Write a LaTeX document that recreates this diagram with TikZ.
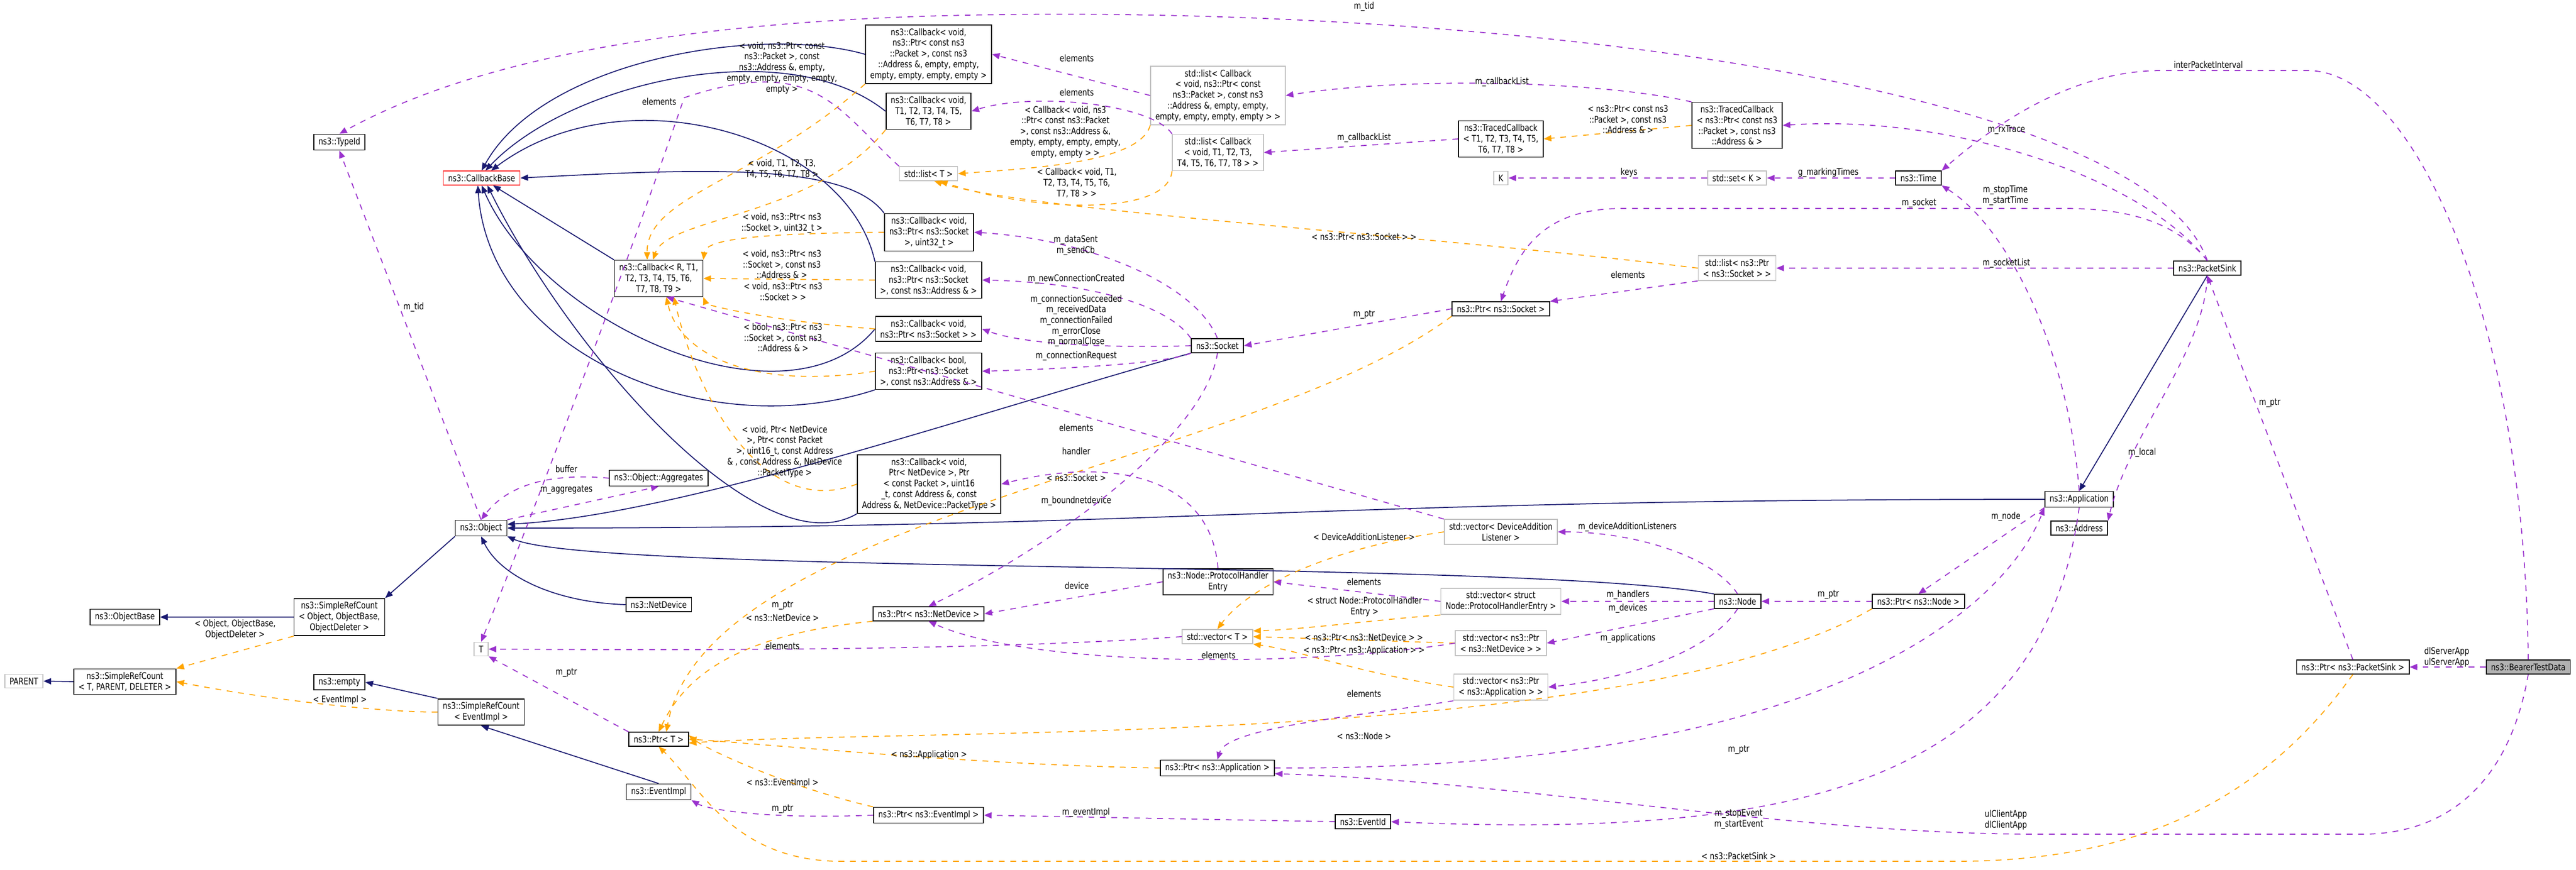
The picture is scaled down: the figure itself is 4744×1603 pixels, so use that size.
\documentclass[tikz,border=0pt]{standalone}
\usepackage{fontspec}
\newfontfamily\dxfont{DejaVu Sans}[FakeStretch=0.8]
\usepackage{tikz}
\usetikzlibrary{arrows.meta}
\definecolor{inhBlue}{HTML}{191970}
\definecolor{memPurple}{HTML}{9A32CD}
\definecolor{tplOrange}{HTML}{FFA500}
\tikzset{
  cls/.style={draw=black, fill=white, align=center, font=\dxfont\fontsize{4.8}{5.6}\selectfont,
              inner xsep=2.5pt, inner ysep=1.8pt, line width=0.5pt},
  ext/.style={cls, draw=black!25},
  basecls/.style={cls, draw=red!80},
  selfcls/.style={cls, fill=black!30},
  lbl/.style={align=center, font=\dxfont\fontsize{4.8}{5.6}\selectfont, inner sep=0pt},
  inh/.style={draw=inhBlue, line width=0.5pt, -{Triangle[length=4pt,width=3.2pt]}},
  mem/.style={draw=memPurple, dashed, line width=0.5pt, -{Triangle[length=4pt,width=3.2pt]}},
  tpl/.style={draw=tplOrange, dashed, line width=0.5pt, -{Triangle[length=4pt,width=3.2pt]}}
}
\begin{document}
\begin{tikzpicture}[x=0.01cm, y=-0.01cm]
\useasboundingbox (0,0) rectangle (4744,1603);
% classes
\node[cls] (typeId) at (625,262) {ns3::TypeId};
\node[basecls] (cbBase) at (887,328) {ns3::CallbackBase};
\node[cls] (cbPkt) at (1710,100) {ns3::Callback< void,\\ ns3::Ptr< const ns3\\::Packet >, const ns3\\::Address \&, empty, empty,\\empty, empty, empty, empty >};
\node[cls] (cbT8) at (1710,205) {ns3::Callback< void,\\T1, T2, T3, T4, T5,\\T6, T7, T8 >};
\node[ext] (listT) at (1710,320) {std::list< T >};
\node[ext] (listCbPkt) at (2243,176) {std::list< Callback\\< void, ns3::Ptr< const\\ ns3::Packet >, const ns3\\::Address \&, empty, empty,\\ empty, empty, empty, empty > >};
\node[ext] (listCbT8) at (2243,281) {std::list< Callback\\< void, T1, T2, T3,\\T4, T5, T6, T7, T8 > >};
\node[cls] (cbSockU) at (1711,428) {ns3::Callback< void,\\ ns3::Ptr< ns3::Socket\\ >, uint32\_t >};
\node[cls] (cbSockAddr) at (1710,516) {ns3::Callback< void,\\ ns3::Ptr< ns3::Socket\\>, const ns3::Address \& >};
\node[cls] (cbR) at (1213,513) {ns3::Callback< R, T1,\\ T2, T3, T4, T5, T6,\\ T7, T8, T9 >};
\node[cls] (cbVoidSock) at (1710,606) {ns3::Callback< void,\\ ns3::Ptr< ns3::Socket > >};
\node[cls] (cbBool) at (1710,684) {ns3::Callback< bool,\\ ns3::Ptr< ns3::Socket\\>, const ns3::Address \& >};
\node[cls] (socket) at (2242,637) {ns3::Socket};
\node[cls] (cbND) at (1711,892) {ns3::Callback< void,\\ Ptr< NetDevice >, Ptr\\< const Packet >, uint16\\\_t, const Address \&, const\\ Address \&, NetDevice::PacketType >};
\node[cls] (aggregates) at (1213,881) {ns3::Object::Aggregates};
\node[cls] (tracedT8) at (2764,256) {ns3::TracedCallback\\< T1, T2, T3, T4, T5,\\ T6, T7, T8 >};
\node[cls] (tracedPkt) at (3199,231) {ns3::TracedCallback\\< ns3::Ptr< const ns3\\::Packet >, const ns3\\::Address \& >};
\node[ext] (k) at (2764,328) {K};
\node[ext] (setK) at (3199,328) {std::set< K >};
\node[cls] (time) at (3533,328) {ns3::Time};
\node[ext] (listPtrSock) at (3199,494) {std::list< ns3::Ptr\\< ns3::Socket > >};
\node[cls] (ptrSocket) at (2764,569) {ns3::Ptr< ns3::Socket >};
\node[ext] (vecDAL) at (2764,980) {std::vector< DeviceAddition\\Listener >};
\node[cls] (packetSink) at (4065,494) {ns3::PacketSink};
\node[cls] (application) at (3829,920) {ns3::Application};
\node[cls] (address) at (3829,973) {ns3::Address};
\node[cls] (node) at (3200,1108) {ns3::Node};
\node[cls] (ptrNode) at (3533,1108) {ns3::Ptr< ns3::Node >};
\node[cls] (ptrPacketSink) at (4333,1229) {ns3::Ptr< ns3::PacketSink >};
\node[selfcls] (bearer) at (4656,1229) {ns3::BearerTestData};
\node[ext] (vecProto) at (2764,1108) {std::vector< struct\\ Node::ProtocolHandlerEntry >};
\node[ext] (vecPtrND) at (2764,1185) {std::vector< ns3::Ptr\\< ns3::NetDevice > >};
\node[ext] (vecPtrApp) at (2764,1266) {std::vector< ns3::Ptr\\< ns3::Application > >};
\node[cls] (object) at (886,973) {ns3::Object};
\node[cls] (srcObject) at (625,1137) {ns3::SimpleRefCount\\< Object, ObjectBase,\\ ObjectDeleter >};
\node[cls] (objectBase) at (230,1137) {ns3::ObjectBase};
\node[ext] (parent) at (44,1255) {PARENT};
\node[cls] (srcT) at (230,1256) {ns3::SimpleRefCount\\< T, PARENT, DELETER >};
\node[cls] (empty) at (625,1257) {ns3::empty};
\node[cls] (srcEvent) at (886,1312) {ns3::SimpleRefCount\\< EventImpl >};
\node[cls] (netDevice) at (1213,1114) {ns3::NetDevice};
\node[ext] (t) at (886,1196) {T};
\node[cls] (ptrT) at (1213,1362) {ns3::Ptr< T >};
\node[cls] (eventImpl) at (1213,1459) {ns3::EventImpl};
\node[cls] (protoEntry) at (2243,1072) {ns3::Node::ProtocolHandler\\Entry};
\node[cls] (ptrND) at (1710,1131) {ns3::Ptr< ns3::NetDevice >};
\node[ext] (vecT) at (2242,1173) {std::vector< T >};
\node[cls] (ptrApp) at (2242,1415) {ns3::Ptr< ns3::Application >};
\node[cls] (ptrEvent) at (1710,1502) {ns3::Ptr< ns3::EventImpl >};
\node[cls] (eventId) at (2510,1514) {ns3::EventId};

% inheritance
\draw[inh] (cbPkt.west) .. controls (1400,45) and (1000,110) .. (cbBase.north);
\draw[inh] (cbT8.west) .. controls (1450,60) and (1050,150) .. ([xshift=2pt]cbBase.north);
\draw[inh] (cbSockAddr.north west) .. controls (1560,250) and (1150,130) .. ([xshift=5pt]cbBase.north);
\draw[inh] (cbSockU.north west) .. controls (1560,300) and (1300,310) .. (cbBase.east);
\draw[inh] (cbVoidSock.west) .. controls (1450,800) and (1000,600) .. (cbBase.south);
\draw[inh] (cbBool.south west) .. controls (1300,820) and (900,650) .. ([xshift=-2pt]cbBase.south);
\draw[inh] (cbND.south west) .. controls (1400,1050) and (1050,650) .. ([xshift=3pt]cbBase.south);
\draw[inh] (cbR.north west) -- ([xshift=6pt]cbBase.south);
\draw[inh] (socket.south west) .. controls (1800,760) and (1250,950) .. ([yshift=2pt]object.east);
\draw[inh] (application.west) .. controls (2400,920) and (2200,973) .. (object.east);
\draw[inh] (node.north west) .. controls (2800,1030) and (1100,1060) .. (object.south east);
\draw[inh] (netDevice.west) .. controls (1020,1110) and (920,1060) .. (object.south);
\draw[inh] (object.south west) -- (srcObject.north east);
\draw[inh] (srcObject.west) -- (objectBase.east);
\draw[inh] (srcT.west) -- (parent.east);
\draw[inh] (srcEvent.north west) -- (empty.east);
\draw[inh] (eventImpl.north) -- (srcEvent.south);
\draw[inh] (packetSink.south) -- (application.north);

% template instances
\draw[tpl] (cbPkt.south west) .. controls (1400,330) and (1190,360) .. ([xshift=-6pt]cbR.north);
\draw[tpl] (cbT8.south west) .. controls (1500,400) and (1230,400) .. ([xshift=-3pt]cbR.north);
\draw[tpl] (cbSockU.west) .. controls (1400,430) and (1300,440) .. (cbR.north east);
\draw[tpl] (cbSockAddr.west) -- (cbR.east);
\draw[tpl] (cbVoidSock.west) .. controls (1400,590) and (1300,560) .. (cbR.south east);
\draw[tpl] (cbBool.west) .. controls (1380,720) and (1250,650) .. ([xshift=4pt]cbR.south);
\draw[tpl] (cbND.west) .. controls (1400,960) and (1280,720) .. ([xshift=8pt]cbR.south);
\draw[tpl] (listCbPkt.south west) .. controls (2100,300) and (1900,310) .. (listT.east);
\draw[tpl] (listCbT8.south west) .. controls (2150,400) and (1900,390) .. ([xshift=6pt]listT.south);
\draw[tpl] (listPtrSock.west) .. controls (2600,430) and (1900,390) .. ([xshift=3pt]listT.south);
\draw[tpl] (tracedPkt.west) -- (tracedT8.east);
\draw[tpl] (srcObject.south west) -- (srcT.north east);
\draw[tpl] (srcEvent.west) .. controls (700,1312) and (500,1290) .. (srcT.east);
\draw[tpl] (ptrSocket.south west) .. controls (2300,860) and (1300,950) .. ([xshift=4pt]ptrT.north);
\draw[tpl] (ptrND.south west) .. controls (1350,1170) and (1260,1250) .. (ptrT.north);
\draw[tpl] (ptrApp.west) .. controls (1800,1410) and (1400,1370) .. (ptrT.east);
\draw[tpl] (ptrEvent.north west) .. controls (1450,1450) and (1300,1380) .. ([yshift=2pt]ptrT.east);
\draw[tpl] (ptrNode.south west) .. controls (3000,1380) and (1700,1340) .. ([yshift=-2pt]ptrT.east);
\draw[tpl] (ptrPacketSink.south) .. controls (4150,1500) and (3900,1587) .. (3600,1587) -- (1550,1587) .. controls (1350,1587) and (1290,1450) .. (ptrT.south);
\draw[tpl] (vecDAL.west) .. controls (2450,1010) and (2300,1080) .. (vecT.north);
\draw[tpl] (vecProto.south west) .. controls (2550,1140) and (2400,1160) .. ([yshift=3pt]vecT.east);
\draw[tpl] (vecPtrND.west) -- (vecT.east);
\draw[tpl] (vecPtrApp.west) .. controls (2500,1240) and (2400,1200) .. (vecT.south east);

% members
\draw[mem] (packetSink.north) .. controls (3950,150) and (2700,0) .. (1700,30) .. controls (1100,50) and (800,150) .. (typeId.north);
\draw[mem] (object.north) -- (typeId.south);
\draw[mem] (listCbPkt.west) -- (cbPkt.east);
\draw[mem] (listCbT8.north west) .. controls (2120,190) and (1900,170) .. (cbT8.east);
\draw[mem] (listT.north west) .. controls (1540,200) and (1500,100) .. (1260,180) .. controls (1150,500) and (1000,900) .. (t.north);
\draw[mem] (tracedT8.west) -- (listCbT8.east);
\draw[mem] (tracedPkt.north west) .. controls (2950,150) and (2600,140) .. (listCbPkt.east);
\draw[mem] (packetSink.north) .. controls (3950,330) and (3600,210) .. (tracedPkt.east);
\draw[mem] (setK.west) -- (k.east);
\draw[mem] (time.west) -- (setK.east);
\draw[mem] (application.north) .. controls (3810,650) and (3700,420) .. (time.south east);
\draw[mem] (bearer.north) .. controls (4650,600) and (4450,130) .. (4250,130) -- (3980,130) .. controls (3800,130) and (3650,250) .. (time.north east);
\draw[mem] (packetSink.north) .. controls (4000,400) and (3900,384) .. (3800,384) -- (2990,384) .. controls (2850,384) and (2800,450) .. (ptrSocket.north);
\draw[mem] (packetSink.west) -- (listPtrSock.east);
\draw[mem] (listPtrSock.south west) -- (ptrSocket.north east);
\draw[mem] (ptrSocket.west) -- (socket.east);
\draw[mem] (socket.north) .. controls (2200,520) and (2000,440) .. (cbSockU.east);
\draw[mem] (socket.north west) .. controls (2150,560) and (2000,520) .. (cbSockAddr.east);
\draw[mem] (socket.west) .. controls (2100,640) and (1900,640) .. (cbVoidSock.east);
\draw[mem] (socket.south west) .. controls (2150,670) and (1950,680) .. (cbBool.east);
\draw[mem] (socket.south) .. controls (2220,800) and (1950,1000) .. (ptrND.north);
\draw[mem] (protoEntry.north) .. controls (2230,880) and (2050,840) .. (cbND.east);
\draw[mem] (protoEntry.west) -- (ptrND.east);
\draw[mem] (vecProto.west) -- (protoEntry.east);
\draw[mem] (vecPtrND.west) .. controls (2400,1230) and (1900,1230) .. (ptrND.south);
\draw[mem] (vecDAL.north west) -- ([xshift=4pt]cbR.south);
\draw[mem] (node.north) .. controls (3150,1020) and (3000,980) .. (vecDAL.east);
\draw[mem] (node.west) -- (vecProto.east);
\draw[mem] (node.south west) -- (vecPtrND.east);
\draw[mem] (node.south) .. controls (3150,1200) and (3000,1250) .. (vecPtrApp.east);
\draw[mem] (vecPtrApp.south west) .. controls (2500,1320) and (2260,1340) .. (ptrApp.north);
\draw[mem] (ptrNode.west) -- (node.east);
\draw[mem] (application.south west) -- (ptrNode.north);
\draw[mem] (packetSink.south) .. controls (4060,650) and (3920,800) .. (address.north east);
\draw[mem] (ptrPacketSink.north) -- (packetSink.south);
\draw[mem] (bearer.west) -- (ptrPacketSink.east);
\draw[mem] (bearer.south) .. controls (4620,1450) and (4500,1537) .. (4350,1537) -- (3750,1537) .. controls (3300,1537) and (2800,1440) .. ([yshift=-3pt]ptrApp.east);
\draw[mem] (ptrApp.east) .. controls (3400,1420) and (3700,1100) .. (application.south west);
\draw[mem] (application.south) .. controls (3760,1450) and (3300,1545) .. (eventId.east);
\draw[mem] (eventId.west) -- (ptrEvent.east);
\draw[mem] (ptrEvent.west) .. controls (1400,1510) and (1300,1490) .. (eventImpl.south east);
\draw[mem] (ptrT.north west) -- (t.south east);
\draw[mem] (vecT.west) .. controls (1800,1200) and (1200,1198) .. (t.east);
\draw[mem] (object.north east) -- (aggregates.south);
\draw[mem] (aggregates.west) .. controls (1000,870) and (930,900) .. (object.north);

% labels
\node[lbl] (lbTidTop) at (2512,12) {m\_tid};
\node[lbl] (lbTid) at (762,566) {m\_tid};
\node[lbl] (lbElPkt) at (1983,107) {elements};
\node[lbl] (lbElT8) at (1983,170) {elements};
\node[lbl] (lbElT) at (1214,187) {elements};
\node[lbl] (lbTplPkt) at (1440,125) {< void, ns3::Ptr< const\\ns3::Packet >, const\\ns3::Address \&, empty,\\empty, empty, empty, empty,\\empty >};
\node[lbl] (lbTplT8) at (1440,311) {< void, T1, T2, T3,\\T4, T5, T6, T7, T8 >};
\node[lbl] (lbTplSockU) at (1440,411) {< void, ns3::Ptr< ns3\\::Socket >, uint32\_t >};
\node[lbl] (lbTplSockAddr) at (1440,487) {< void, ns3::Ptr< ns3\\::Socket >, const ns3\\::Address \& >};
\node[lbl] (lbTplVoidSock) at (1442,537) {< void, ns3::Ptr< ns3\\::Socket > >};
\node[lbl] (lbTplBool) at (1442,622) {< bool, ns3::Ptr< ns3\\::Socket >, const ns3\\::Address \& >};
\node[lbl] (lbTplND) at (1445,832) {< void, Ptr< NetDevice\\>, Ptr< const Packet\\>, uint16\_t, const Address\\\& , const Address \&, NetDevice\\::PacketType >};
\node[lbl] (lbTplListPkt) at (1962,243) {< Callback< void, ns3\\::Ptr< const ns3::Packet\\>, const ns3::Address \&,\\empty, empty, empty, empty,\\empty, empty > >};
\node[lbl] (lbTplListT8) at (1983,337) {< Callback< void, T1,\\T2, T3, T4, T5, T6,\\T7, T8 > >};
\node[lbl] (lbTplListSock) at (2512,436) {< ns3::Ptr< ns3::Socket > >};
\node[lbl] (lbCbListT8) at (2512,254) {m\_callbackList};
\node[lbl] (lbCbListPkt) at (2766,151) {m\_callbackList};
\node[lbl] (lbTplTraced) at (2998,220) {< ns3::Ptr< const ns3\\::Packet >, const ns3\\::Address \& >};
\node[lbl] (lbRxTrace) at (3695,239) {m\_rxTrace};
\node[lbl] (lbKeys) at (3000,318) {keys};
\node[lbl] (lbMarking) at (3367,318) {g\_markingTimes};
\node[lbl] (lbStartStop) at (3693,360) {m\_stopTime\\m\_startTime};
\node[lbl] (lbInterval) at (4067,119) {interPacketInterval};
\node[lbl] (lbSocket) at (3534,374) {m\_socket};
\node[lbl] (lbSocketList) at (3695,485) {m\_socketList};
\node[lbl] (lbElSock) at (2998,506) {elements};
\node[lbl] (lbPtrSock) at (2512,580) {m\_ptr};
\node[lbl] (lbDataSent) at (1981,452) {m\_dataSent\\m\_sendCb};
\node[lbl] (lbNewConn) at (1982,514) {m\_newConnectionCreated};
\node[lbl] (lbConnSucc) at (1982,591) {m\_connectionSucceeded\\m\_receivedData\\m\_connectionFailed\\m\_errorClose\\m\_normalClose};
\node[lbl] (lbConnReq) at (1982,656) {m\_connectionRequest};
\node[lbl] (lbElDAL) at (1982,788) {elements};
\node[lbl] (lbHandler) at (1982,831) {handler};
\node[lbl] (lbTplSocket) at (1982,880) {< ns3::Socket >};
\node[lbl] (lbBound) at (1982,923) {m\_boundnetdevice};
\node[lbl] (lbDevice) at (1983,1079) {device};
\node[lbl] (lbElProto) at (2512,1072) {elements};
\node[lbl] (lbTplDAL) at (2512,989) {< DeviceAdditionListener >};
\node[lbl] (lbTplProto) at (2513,1118) {< struct Node::ProtocolHandler\\Entry >};
\node[lbl] (lbTplVecND) at (2512,1174) {< ns3::Ptr< ns3::NetDevice > >};
\node[lbl] (lbTplVecApp) at (2512,1199) {< ns3::Ptr< ns3::Application > >};
\node[lbl] (lbElND) at (2244,1207) {elements};
\node[lbl] (lbElApp) at (2512,1278) {elements};
\node[lbl] (lbDAL) at (2997,971) {m\_deviceAdditionListeners};
\node[lbl] (lbHandlers) at (2998,1096) {m\_handlers};
\node[lbl] (lbDevices) at (2998,1121) {m\_devices};
\node[lbl] (lbApps) at (2998,1176) {m\_applications};
\node[lbl] (lbPtrNode) at (3367,1096) {m\_ptr};
\node[lbl] (lbNode) at (3694,952) {m\_node};
\node[lbl] (lbLocal) at (3945,834) {m\_local};
\node[lbl] (lbPtrSink) at (4180,743) {m\_ptr};
\node[lbl] (lbServer) at (4506,1211) {dlServerApp\\ulServerApp};
\node[lbl] (lbClient) at (3694,1511) {ulClientApp\\dlClientApp};
\node[lbl] (lbPtrApp) at (3202,1382) {m\_ptr};
\node[lbl] (lbEvents) at (3202,1509) {m\_stopEvent\\m\_startEvent};
\node[lbl] (lbTplNode) at (2512,1356) {< ns3::Node >};
\node[lbl] (lbTplSink) at (3202,1577) {< ns3::PacketSink >};
\node[lbl] (lbTplApp) at (1711,1391) {< ns3::Application >};
\node[lbl] (lbEventImpl) at (2000,1497) {m\_eventImpl};
\node[lbl] (lbPtrEvent) at (1441,1491) {m\_ptr};
\node[lbl] (lbTplEvent) at (1441,1443) {< ns3::EventImpl >};
\node[lbl] (lbPtrND) at (1441,1116) {m\_ptr};
\node[lbl] (lbTplND2) at (1441,1138) {< ns3::NetDevice >};
\node[lbl] (lbElVecT) at (1441,1190) {elements};
\node[lbl] (lbPtrT) at (1043,1240) {m\_ptr};
\node[lbl] (lbAggr) at (1043,903) {m\_aggregates};
\node[lbl] (lbBuffer) at (1043,864) {buffer};
\node[lbl] (lbTplObj) at (433,1160) {< Object, ObjectBase,\\ObjectDeleter >};
\node[lbl] (lbTplEv) at (626,1290) {< EventImpl >};
\end{tikzpicture}
\end{document}
